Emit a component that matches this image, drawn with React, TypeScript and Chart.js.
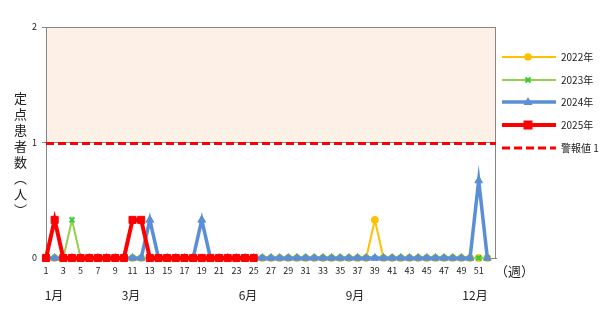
import { useEffect, useRef } from 'react';
import { Chart, registerables } from 'chart.js';

Chart.register(...registerables);

const WEEKS = [
  '1', '2', '3', '4', '5', '6', '7', '8', '9', '10',
  '11', '12', '13', '14', '15', '16', '17', '18', '19', '20',
  '21', '22', '23', '24', '25', '26', '27', '28', '29', '30',
  '31', '32', '33', '34', '35', '36', '37', '38', '39', '40',
  '41', '42', '43', '44', '45', '46', '47', '48', '49', '50',
  '51', '52', '53',
];

const Y2022 = [
  0, 0, 0, 0, 0, 0, 0, 0, 0, 0,
  0, 0, 0, 0, 0, 0, 0, 0, 0, 0,
  0, 0, 0, 0, 0, 0, 0, 0, 0, 0,
  0, 0, 0, 0, 0, 0, 0, 0, 0.33, 0,
  0, 0, 0, 0, 0, 0, 0, 0, 0, 0,
  0, 0,
];
const Y2023 = [
  0, 0, 0, 0.33, 0, 0, 0, 0, 0, 0,
  0, 0, 0, 0, 0, 0, 0, 0, 0, 0,
  0, 0, 0, 0, 0, 0, 0, 0, 0, 0,
  0, 0, 0, 0, 0, 0, 0, 0, 0, 0,
  0, 0, 0, 0, 0, 0, 0, 0, 0, 0,
  0, 0,
];
const Y2024 = [
  0, 0, 0, 0, 0, 0, 0, 0, 0, 0,
  0, 0, 0.33, 0, 0, 0, 0, 0, 0.33, 0,
  0, 0, 0, 0, 0, 0, 0, 0, 0, 0,
  0, 0, 0, 0, 0, 0, 0, 0, 0, 0,
  0, 0, 0, 0, 0, 0, 0, 0, 0, 0,
  0.67, 0,
];
const Y2025 = [
  0, 0.33, 0, 0, 0, 0, 0, 0, 0, 0,
  0.33, 0.33, 0, 0, 0, 0, 0, 0, 0, 0,
  0, 0, 0, 0, 0,
];

const ALERT_LEVEL = 1;
const ALERT_LABEL = '警報値 1';
const SERIES_NAMES = ['2022年', '2023年', '2024年', '2025年'];
const Y_TICKS = [0, 1, 2];
const MONTHS = ['1月', '3月', '6月', '9月', '12月'];
const Y_TITLE = '定点患者数（人）';
const X_UNIT = '（週）';

const FONT = '"Noto Sans CJK JP", "Noto Sans", sans-serif';

const STYLES = [
  { color: '#FFC000', pointColor: '#FFC000', pointStyle: 'circle', lineWidth: 2, radius: 3.5, pbw: 1 },
  { color: '#92D050', pointColor: '#33CC33', pointStyle: 'crossRot', lineWidth: 2, radius: 3.5, pbw: 2 },
  { color: '#5B8FD5', pointColor: '#5B8FD5', pointStyle: 'triangle', lineWidth: 3.5, radius: 4.5, pbw: 1 },
  { color: '#FF0000', pointColor: '#FF0000', pointStyle: 'rect', lineWidth: 4, radius: 5, pbw: 1 },
];

function drawMarker(ctx: CanvasRenderingContext2D, style: string, x: number, y: number, color: string) {
  ctx.save();
  ctx.fillStyle = color;
  ctx.strokeStyle = color;
  if (style === 'circle') {
    ctx.beginPath();
    ctx.arc(x, y, 3.8, 0, Math.PI * 2);
    ctx.fill();
  } else if (style === 'crossRot') {
    ctx.lineWidth = 2;
    ctx.beginPath();
    ctx.moveTo(x - 2.5, y - 2.5);
    ctx.lineTo(x + 2.5, y + 2.5);
    ctx.moveTo(x + 2.5, y - 2.5);
    ctx.lineTo(x - 2.5, y + 2.5);
    ctx.stroke();
  } else if (style === 'triangle') {
    ctx.beginPath();
    ctx.moveTo(x, y - 5);
    ctx.lineTo(x + 4.5, y + 3);
    ctx.lineTo(x - 4.5, y + 3);
    ctx.closePath();
    ctx.fill();
  } else if (style === 'rect') {
    ctx.fillRect(x - 4.5, y - 4.5, 9, 9);
  }
  ctx.restore();
}

const decorPlugin = {
  id: 'decor',
  beforeDraw(chart: any) {
    const { ctx, chartArea, scales } = chart;
    const y = scales.y;
    const top = y.getPixelForValue(Y_TICKS[2]);
    const bot = y.getPixelForValue(ALERT_LEVEL);
    ctx.save();
    ctx.fillStyle = '#FDF0E7';
    ctx.fillRect(chartArea.left, top, chartArea.right - chartArea.left, bot - top);
    ctx.restore();
  },
  beforeDatasetsDraw(chart: any) {
    const { ctx, chartArea, scales } = chart;
    const yv = Math.round(scales.y.getPixelForValue(ALERT_LEVEL)) + 0.5;
    ctx.save();
    ctx.strokeStyle = '#868686';
    ctx.lineWidth = 1;
    ctx.beginPath();
    ctx.moveTo(Math.round(chartArea.right) - 0.5, chartArea.top);
    ctx.lineTo(Math.round(chartArea.right) - 0.5, chartArea.bottom);
    ctx.stroke();
    ctx.strokeStyle = '#FF0000';
    ctx.lineWidth = 3;
    ctx.setLineDash([8, 4]);
    ctx.beginPath();
    ctx.moveTo(chartArea.left, yv);
    ctx.lineTo(chartArea.right, yv);
    ctx.stroke();
    ctx.restore();
  },
  afterDraw(chart: any) {
    const { ctx } = chart;
    const x0 = 502;
    const x1 = 556;
    const xm = 528;
    const xt = 561;
    const rows = [57, 80, 102, 125, 148];
    ctx.save();
    ctx.font = `10px ${FONT}`;
    ctx.fillStyle = '#222';
    ctx.textBaseline = 'middle';
    for (let i = 0; i < SERIES_NAMES.length; i++) {
      const s = STYLES[i];
      const yy = rows[i];
      ctx.strokeStyle = s.color;
      ctx.lineWidth = s.lineWidth;
      ctx.beginPath();
      ctx.moveTo(x0, yy);
      ctx.lineTo(x1, yy);
      ctx.stroke();
      drawMarker(ctx, s.pointStyle, xm, yy, s.pointColor);
      ctx.fillStyle = '#222';
      ctx.fillText(SERIES_NAMES[i], xt, yy);
    }
    const ya = rows[4];
    ctx.strokeStyle = '#FF0000';
    ctx.lineWidth = 3;
    ctx.setLineDash([8, 4]);
    ctx.beginPath();
    ctx.moveTo(x0, ya);
    ctx.lineTo(x1, ya);
    ctx.stroke();
    ctx.setLineDash([]);
    ctx.fillStyle = '#222';
    ctx.fillText(ALERT_LABEL, xt, ya);
    ctx.restore();
  },
};

const MONTH_X = [54, 131, 248, 355, 475];

export default function App() {
  const ref = useRef<HTMLCanvasElement | null>(null);

  useEffect(() => {
    document.body.style.margin = '0';
    const canvas = ref.current;
    if (!canvas) return;
    const datasets = [Y2022, Y2023, Y2024, Y2025].map((data, i) => {
      const s = STYLES[i];
      return {
        label: SERIES_NAMES[i],
        data,
        borderColor: s.color,
        backgroundColor: s.pointColor,
        borderWidth: s.lineWidth,
        pointStyle: s.pointStyle,
        pointRadius: s.radius,
        pointBackgroundColor: s.pointColor,
        pointBorderColor: s.pointColor,
        pointBorderWidth: s.pbw,
        tension: 0,
        fill: false,
        clip: false,
        order: 3 - i,
      };
    });
    const chart = new Chart(canvas, {
      type: 'line',
      data: { labels: WEEKS, datasets: datasets as any },
      options: {
        responsive: false,
        animation: false,
        events: [],
        layout: { padding: { left: 0, top: 27, right: 112, bottom: 0 } },
        plugins: { legend: { display: false }, tooltip: { enabled: false } },
        scales: {
          x: {
            type: 'category',
            offset: false,
            grid: { display: false, drawTicks: false, tickLength: 0 },
            border: { display: true, color: '#868686' },
            afterFit: (scale: any) => { scale.height = 54; },
            ticks: {
              autoSkip: false,
              maxRotation: 0,
              minRotation: 0,
              padding: 7,
              color: '#222',
              font: { size: 9, family: FONT },
              callback: (_v: any, idx: number) => {
                const lab = WEEKS[idx];
                return idx % 2 === 0 && idx < WEEKS.length - 1 ? lab : '';
              },
            },
          },
          y: {
            min: Y_TICKS[0],
            max: Y_TICKS[2],
            afterFit: (scale: any) => { scale.width = 46; },
            grid: { color: '#868686', lineWidth: 1, tickLength: 4, drawTicks: true },
            border: { display: true, color: '#868686' },
            ticks: {
              stepSize: 1,
              padding: 5,
              color: '#222',
              font: { size: 9, family: FONT },
            },
          },
        },
      } as any,
      plugins: [decorPlugin as any],
    });
    return () => chart.destroy();
  }, []);

  return (
    <div style={{ position: 'fixed', left: 0, top: 0, width: 608, height: 312, background: '#fff' }}>
      <canvas ref={ref} width={608} height={312} style={{ display: 'block' }} />
      <div
        style={{
          position: 'absolute',
          left: 12,
          top: 92,
          writingMode: 'vertical-rl',
          fontSize: 13,
          lineHeight: '16px',
          letterSpacing: 3,
          fontFamily: FONT,
          color: '#222',
        }}
      >
        {Y_TITLE}
      </div>
      <div
        style={{
          position: 'absolute',
          left: 495,
          top: 262,
          fontSize: 13,
          lineHeight: '18px',
          fontFamily: FONT,
          color: '#222',
          whiteSpace: 'nowrap',
        }}
      >
        {X_UNIT}
      </div>
      {MONTHS.map((m, i) => (
        <div
          key={m}
          style={{
            position: 'absolute',
            left: MONTH_X[i] - 20,
            width: 40,
            textAlign: 'center',
            top: 286,
            fontSize: 12,
            lineHeight: '18px',
            fontFamily: FONT,
            color: '#222',
          }}
        >
          {m}
        </div>
      ))}
    </div>
  );
}
